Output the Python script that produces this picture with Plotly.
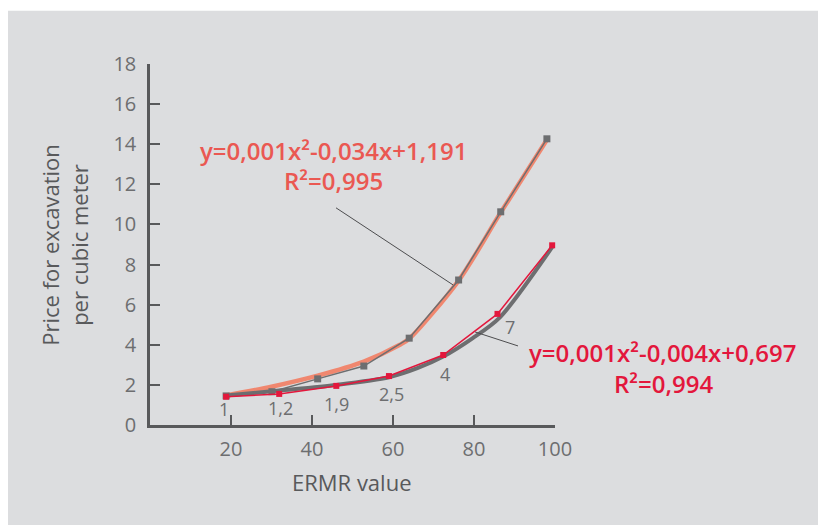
import plotly.graph_objects as go

# ---- data ----
gray_x = [18.8, 30.1, 41.4, 52.8, 64.0, 76.2, 86.6, 98.0]
gray_y = [1.45, 1.66, 2.30, 2.94, 4.33, 7.23, 10.63, 14.27]

red_x = [18.8, 31.9, 46.0, 59.0, 72.4, 85.8, 99.3]
red_y = [1.41, 1.55, 1.95, 2.44, 3.49, 5.54, 8.96]

# trend curves
trend_gray_x = [18.8, 30.0, 41.4, 52.8, 61.7, 64.0, 76.2, 86.6, 98.0]
trend_gray_y = [1.47, 1.91, 2.46, 3.16, 4.00, 4.30, 7.20, 10.60, 14.22]

trend_red_x = [18.8, 31.9, 46.0, 59.0, 66.0, 72.4, 79.7, 86.4, 99.3]
trend_red_y = [1.47, 1.72, 2.00, 2.38, 2.83, 3.41, 4.33, 5.37, 8.87]

label_texts = ["1", "1,2", "1,9", "2,5", "4", "7"]

x_ticks = [20, 40, 60, 80, 100]
y_ticks = [0, 2, 4, 6, 8, 10, 12, 14, 16, 18]

eq1 = ["y=0,001x²-0,034x+1,191", "R²=0,995"]
eq2 = ["y=0,001x²-0,004x+0,697", "R²=0,994"]

# ---- styling ----
BG = "#dcdddf"
AX = "#58595b"
GRAY = "#6d6e70"
RED = "#e3173c"
SALMON = "#f0876f"
EQ1C = "#ea5852"
FONT = "Open Sans"

fig = go.Figure()

fig.add_trace(go.Scatter(x=trend_gray_x, y=trend_gray_y, mode="lines",
                         line=dict(color=SALMON, width=4.5, shape="spline", smoothing=0.8),
                         hoverinfo="skip", showlegend=False))
fig.add_trace(go.Scatter(x=trend_red_x, y=trend_red_y, mode="lines",
                         line=dict(color=GRAY, width=4, shape="spline", smoothing=0.8),
                         hoverinfo="skip", showlegend=False))
fig.add_trace(go.Scatter(x=gray_x, y=gray_y, mode="lines+markers",
                         line=dict(color=GRAY, width=1.5),
                         marker=dict(symbol="square", size=7, color=GRAY),
                         cliponaxis=False, showlegend=False))
fig.add_trace(go.Scatter(x=red_x, y=red_y, mode="lines+markers",
                         line=dict(color=RED, width=1.5),
                         marker=dict(symbol="square", size=6, color=RED),
                         cliponaxis=False, showlegend=False))

annotations = []
# data labels under the red series
label_shift = [(-2, -12), (1, -14), (0, -18), (3, -18), (2, -19), (13, -13)]
for i, t in enumerate(label_texts):
    dx, dy = label_shift[i]
    annotations.append(dict(x=red_x[i], y=red_y[i], xref="x", yref="y", text=t,
                            showarrow=False, xshift=dx, yshift=dy,
                            xanchor="center", yanchor="middle",
                            font=dict(family=FONT, size=18, color=GRAY)))

# page-pixel helpers (plot area spans x 150..555, y 64.3..425 on the page)
W, H, L, B = 405.0, 360.7, 150.0, 425.0
def px(xp):
    return (xp - L) / W
def py(yp):
    return (B - yp) / H

def txt(x, y, text, size, color, angle=0, weight=500):
    return dict(x=px(x), y=py(y), xref="paper", yref="paper", text=text,
                showarrow=False, xanchor="center", yanchor="middle", textangle=angle,
                font=dict(family=FONT, size=size, color=color, weight=weight))

annotations += [
    txt(333, 151, eq1[0], 24, EQ1C, weight=600),
    txt(333, 181, eq1[1], 24, EQ1C, weight=600),
    txt(662, 353, eq2[0], 24, RED, weight=600),
    txt(663, 384, eq2[1], 24, RED, weight=600),
    txt(352, 482, "ERMR value", 22, AX),
    txt(65, 245, "Price for excavation<br>per cubic meter", 22, AX, -90),
]

shapes = [
    dict(type="rect", xref="paper", yref="paper", x0=px(8), x1=px(840), y0=py(540), y1=py(11),
         fillcolor=BG, line=dict(width=0), layer="below"),
    dict(type="line", xref="paper", yref="paper", x0=px(336), y0=py(208), x1=px(453), y1=py(285),
         line=dict(color="#4d4d4f", width=1)),
    dict(type="line", xref="paper", yref="paper", x0=px(475), y0=py(332), x1=px(518), y1=py(346),
         line=dict(color="#4d4d4f", width=1)),
]

# the page body has an 8px margin, so the figure is 8px smaller and offset
fig.update_layout(
    width=818, height=517,
    margin=dict(l=142, r=271, t=56, b=100),
    paper_bgcolor="white", plot_bgcolor=BG,
    annotations=annotations, shapes=shapes,
    showlegend=False,
    xaxis=dict(range=[0, 100], tickvals=x_ticks, showline=True, linecolor=AX, linewidth=2.5,
               ticks="inside", ticklen=10, tickwidth=2, tickcolor=AX, showgrid=False,
               zeroline=False, tickfont=dict(family=FONT, size=20, color=GRAY),
               ticklabelstandoff=4),
    yaxis=dict(range=[0, 18], tickvals=y_ticks, showline=True, linecolor=AX, linewidth=2.5,
               ticks="inside", ticklen=10, tickwidth=2, tickcolor=AX, showgrid=False,
               zeroline=False, tickfont=dict(family=FONT, size=20, color=GRAY),
               ticklabelstandoff=7),
)

fig.write_html("out.html")
